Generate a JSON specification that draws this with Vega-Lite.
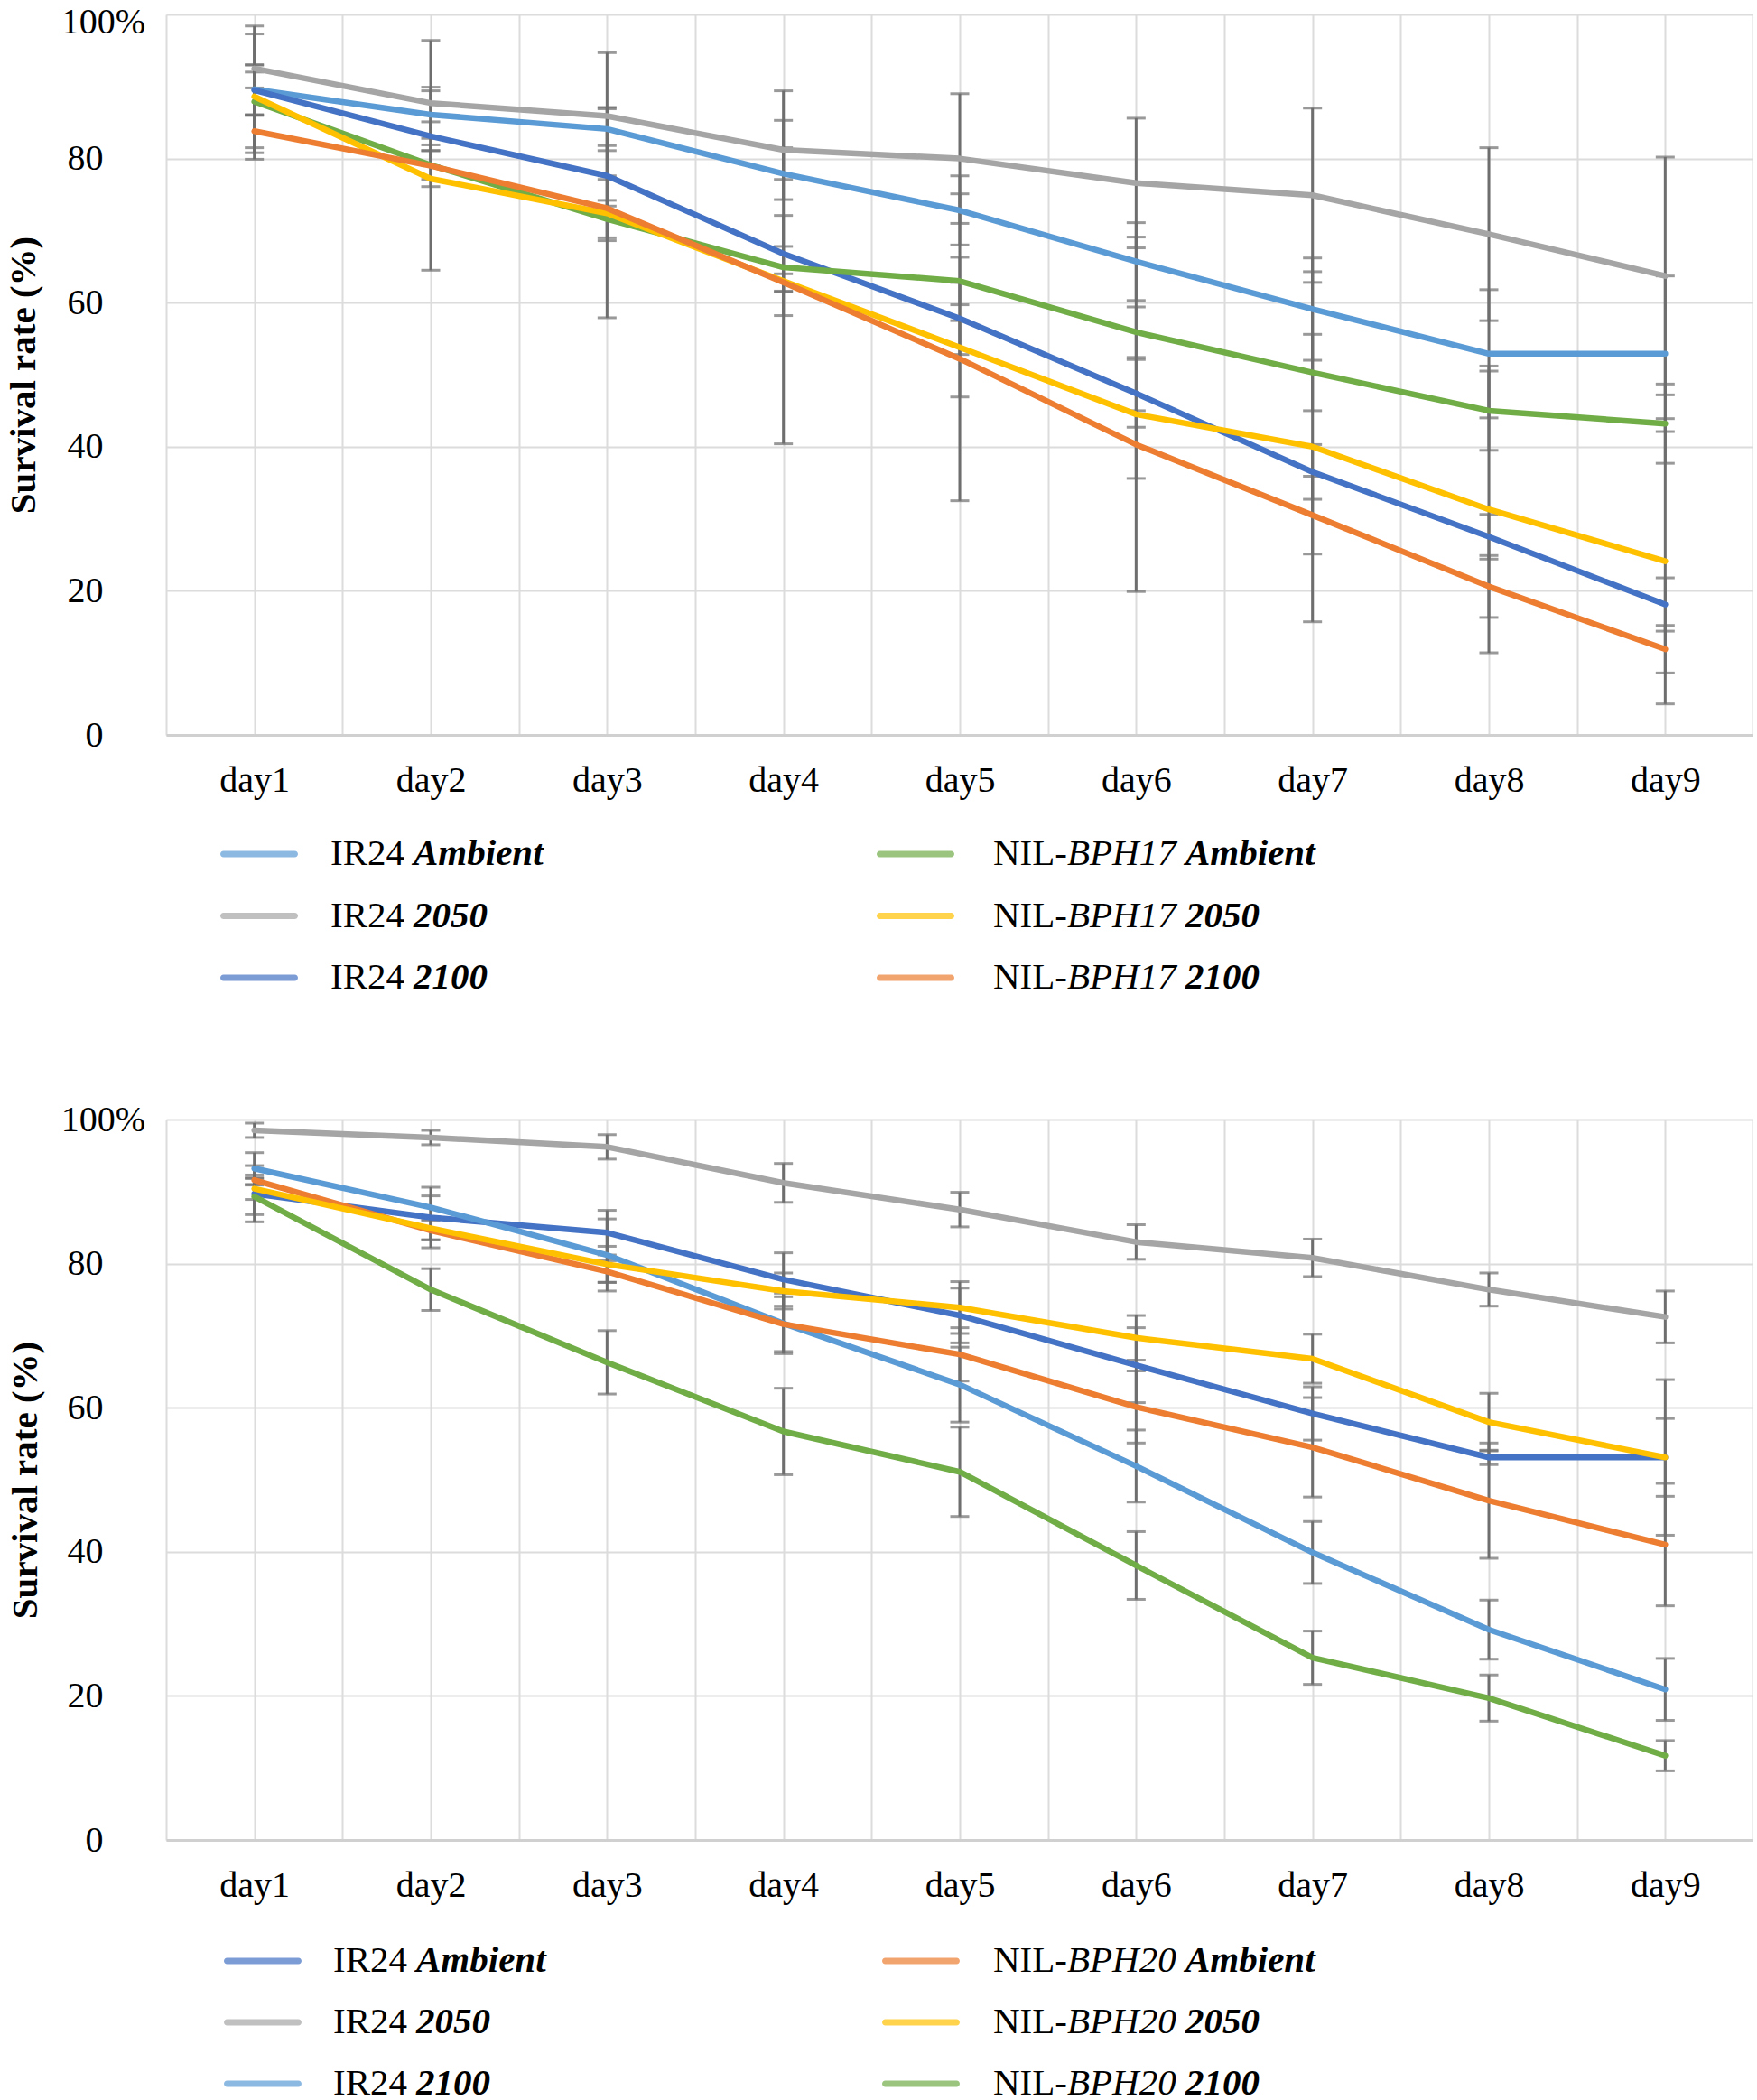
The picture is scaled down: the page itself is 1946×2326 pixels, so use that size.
{
  "$schema": "https://vega.github.io/schema/vega-lite/v6.json",
  "background": "white",
  "padding": {"left": 5, "top": 4, "right": 0, "bottom": 0},
  "bounds": "flush",
  "spacing": 0,
  "resolve": {"scale": {"color": "independent", "x": "independent", "y": "independent"}},
  "config": {
    "view": {"stroke": null},
    "font": "Liberation Serif",
    "axis": {"labelFont": "Liberation Serif", "titleFont": "Liberation Serif", "labelColor": "#000000", "titleColor": "#000000"},
    "text": {"font": "Liberation Serif"}
  },
  "datasets": {
    "bph17": [
      {"day": 1, "cultivar": "IR24", "gene": "", "scenario": "Ambient", "series": "IR24 Ambient", "rate": 89.6, "sd": 8.8},
      {"day": 2, "cultivar": "IR24", "gene": "", "scenario": "Ambient", "series": "IR24 Ambient", "rate": 86.1, "sd": 3.3},
      {"day": 3, "cultivar": "IR24", "gene": "", "scenario": "Ambient", "series": "IR24 Ambient", "rate": 84.1, "sd": 3.0},
      {"day": 4, "cultivar": "IR24", "gene": "", "scenario": "Ambient", "series": "IR24 Ambient", "rate": 77.9, "sd": 3.6},
      {"day": 5, "cultivar": "IR24", "gene": "", "scenario": "Ambient", "series": "IR24 Ambient", "rate": 72.8, "sd": 4.8},
      {"day": 6, "cultivar": "IR24", "gene": "", "scenario": "Ambient", "series": "IR24 Ambient", "rate": 65.7, "sd": 5.4},
      {"day": 7, "cultivar": "IR24", "gene": "", "scenario": "Ambient", "series": "IR24 Ambient", "rate": 59.1, "sd": 7.1},
      {"day": 8, "cultivar": "IR24", "gene": "", "scenario": "Ambient", "series": "IR24 Ambient", "rate": 52.9, "sd": 8.9},
      {"day": 9, "cultivar": "IR24", "gene": "", "scenario": "Ambient", "series": "IR24 Ambient", "rate": 52.9, "sd": 10.8},
      {"day": 1, "cultivar": "IR24", "gene": "", "scenario": "2050", "series": "IR24 2050", "rate": 92.5, "sd": 0.5},
      {"day": 2, "cultivar": "IR24", "gene": "", "scenario": "2050", "series": "IR24 2050", "rate": 87.7, "sd": 8.7},
      {"day": 3, "cultivar": "IR24", "gene": "", "scenario": "2050", "series": "IR24 2050", "rate": 85.9, "sd": 8.8},
      {"day": 4, "cultivar": "IR24", "gene": "", "scenario": "2050", "series": "IR24 2050", "rate": 81.2, "sd": 4.1},
      {"day": 5, "cultivar": "IR24", "gene": "", "scenario": "2050", "series": "IR24 2050", "rate": 80.0, "sd": 9.0},
      {"day": 6, "cultivar": "IR24", "gene": "", "scenario": "2050", "series": "IR24 2050", "rate": 76.6, "sd": 9.0},
      {"day": 7, "cultivar": "IR24", "gene": "", "scenario": "2050", "series": "IR24 2050", "rate": 74.9, "sd": 12.1},
      {"day": 8, "cultivar": "IR24", "gene": "", "scenario": "2050", "series": "IR24 2050", "rate": 69.5, "sd": 12.0},
      {"day": 9, "cultivar": "IR24", "gene": "", "scenario": "2050", "series": "IR24 2050", "rate": 63.7, "sd": 16.5},
      {"day": 1, "cultivar": "IR24", "gene": "", "scenario": "2100", "series": "IR24 2100", "rate": 89.5, "sd": 3.5},
      {"day": 2, "cultivar": "IR24", "gene": "", "scenario": "2100", "series": "IR24 2100", "rate": 83.1, "sd": 2.0},
      {"day": 3, "cultivar": "IR24", "gene": "", "scenario": "2100", "series": "IR24 2100", "rate": 77.6, "sd": 4.2},
      {"day": 4, "cultivar": "IR24", "gene": "", "scenario": "2100", "series": "IR24 2100", "rate": 66.8, "sd": 5.3},
      {"day": 5, "cultivar": "IR24", "gene": "", "scenario": "2100", "series": "IR24 2100", "rate": 57.8, "sd": 5.0},
      {"day": 6, "cultivar": "IR24", "gene": "", "scenario": "2100", "series": "IR24 2100", "rate": 47.4, "sd": 4.7},
      {"day": 7, "cultivar": "IR24", "gene": "", "scenario": "2100", "series": "IR24 2100", "rate": 36.5, "sd": 3.8},
      {"day": 8, "cultivar": "IR24", "gene": "", "scenario": "2100", "series": "IR24 2100", "rate": 27.5, "sd": 3.1},
      {"day": 9, "cultivar": "IR24", "gene": "", "scenario": "2100", "series": "IR24 2100", "rate": 18.1, "sd": 3.7},
      {"day": 1, "cultivar": "NIL-BPH17", "gene": "BPH17", "scenario": "Ambient", "series": "NIL-BPH17 Ambient", "rate": 87.9, "sd": 1.9},
      {"day": 2, "cultivar": "NIL-BPH17", "gene": "BPH17", "scenario": "Ambient", "series": "NIL-BPH17 Ambient", "rate": 79.1, "sd": 2.0},
      {"day": 3, "cultivar": "NIL-BPH17", "gene": "BPH17", "scenario": "Ambient", "series": "NIL-BPH17 Ambient", "rate": 71.6, "sd": 2.6},
      {"day": 4, "cultivar": "NIL-BPH17", "gene": "BPH17", "scenario": "Ambient", "series": "NIL-BPH17 Ambient", "rate": 64.9, "sd": 24.5},
      {"day": 5, "cultivar": "NIL-BPH17", "gene": "BPH17", "scenario": "Ambient", "series": "NIL-BPH17 Ambient", "rate": 63.0, "sd": 3.3},
      {"day": 6, "cultivar": "NIL-BPH17", "gene": "BPH17", "scenario": "Ambient", "series": "NIL-BPH17 Ambient", "rate": 55.9, "sd": 3.5},
      {"day": 7, "cultivar": "NIL-BPH17", "gene": "BPH17", "scenario": "Ambient", "series": "NIL-BPH17 Ambient", "rate": 50.3, "sd": 5.3},
      {"day": 8, "cultivar": "NIL-BPH17", "gene": "BPH17", "scenario": "Ambient", "series": "NIL-BPH17 Ambient", "rate": 45.0, "sd": 5.5},
      {"day": 9, "cultivar": "NIL-BPH17", "gene": "BPH17", "scenario": "Ambient", "series": "NIL-BPH17 Ambient", "rate": 43.2, "sd": 5.5},
      {"day": 1, "cultivar": "NIL-BPH17", "gene": "BPH17", "scenario": "2050", "series": "NIL-BPH17 2050", "rate": 88.6, "sd": 8.7},
      {"day": 2, "cultivar": "NIL-BPH17", "gene": "BPH17", "scenario": "2050", "series": "NIL-BPH17 2050", "rate": 77.2, "sd": 12.7},
      {"day": 3, "cultivar": "NIL-BPH17", "gene": "BPH17", "scenario": "2050", "series": "NIL-BPH17 2050", "rate": 72.4, "sd": 14.5},
      {"day": 4, "cultivar": "NIL-BPH17", "gene": "BPH17", "scenario": "2050", "series": "NIL-BPH17 2050", "rate": 63.0, "sd": 4.8},
      {"day": 5, "cultivar": "NIL-BPH17", "gene": "BPH17", "scenario": "2050", "series": "NIL-BPH17 2050", "rate": 53.8, "sd": 21.3},
      {"day": 6, "cultivar": "NIL-BPH17", "gene": "BPH17", "scenario": "2050", "series": "NIL-BPH17 2050", "rate": 44.5, "sd": 24.6},
      {"day": 7, "cultivar": "NIL-BPH17", "gene": "BPH17", "scenario": "2050", "series": "NIL-BPH17 2050", "rate": 40.0, "sd": 24.3},
      {"day": 8, "cultivar": "NIL-BPH17", "gene": "BPH17", "scenario": "2050", "series": "NIL-BPH17 2050", "rate": 31.3, "sd": 19.9},
      {"day": 9, "cultivar": "NIL-BPH17", "gene": "BPH17", "scenario": "2050", "series": "NIL-BPH17 2050", "rate": 24.1, "sd": 19.8},
      {"day": 1, "cultivar": "NIL-BPH17", "gene": "BPH17", "scenario": "2100", "series": "NIL-BPH17 2100", "rate": 83.8, "sd": 2.3},
      {"day": 2, "cultivar": "NIL-BPH17", "gene": "BPH17", "scenario": "2100", "series": "NIL-BPH17 2100", "rate": 79.0, "sd": 2.9},
      {"day": 3, "cultivar": "NIL-BPH17", "gene": "BPH17", "scenario": "2100", "series": "NIL-BPH17 2100", "rate": 73.1, "sd": 4.5},
      {"day": 4, "cultivar": "NIL-BPH17", "gene": "BPH17", "scenario": "2100", "series": "NIL-BPH17 2100", "rate": 62.8, "sd": 1.2},
      {"day": 5, "cultivar": "NIL-BPH17", "gene": "BPH17", "scenario": "2100", "series": "NIL-BPH17 2100", "rate": 52.2, "sd": 5.3},
      {"day": 6, "cultivar": "NIL-BPH17", "gene": "BPH17", "scenario": "2100", "series": "NIL-BPH17 2100", "rate": 40.3, "sd": 4.7},
      {"day": 7, "cultivar": "NIL-BPH17", "gene": "BPH17", "scenario": "2100", "series": "NIL-BPH17 2100", "rate": 30.5, "sd": 5.4},
      {"day": 8, "cultivar": "NIL-BPH17", "gene": "BPH17", "scenario": "2100", "series": "NIL-BPH17 2100", "rate": 20.6, "sd": 4.3},
      {"day": 9, "cultivar": "NIL-BPH17", "gene": "BPH17", "scenario": "2100", "series": "NIL-BPH17 2100", "rate": 11.9, "sd": 3.3}
    ],
    "bph20": [
      {"day": 1, "cultivar": "IR24", "gene": "", "scenario": "Ambient", "series": "IR24 Ambient", "rate": 89.7, "sd": 3.9},
      {"day": 2, "cultivar": "IR24", "gene": "", "scenario": "Ambient", "series": "IR24 Ambient", "rate": 86.4, "sd": 4.2},
      {"day": 3, "cultivar": "IR24", "gene": "", "scenario": "Ambient", "series": "IR24 Ambient", "rate": 84.3, "sd": 3.1},
      {"day": 4, "cultivar": "IR24", "gene": "", "scenario": "Ambient", "series": "IR24 Ambient", "rate": 77.8, "sd": 3.7},
      {"day": 5, "cultivar": "IR24", "gene": "", "scenario": "Ambient", "series": "IR24 Ambient", "rate": 72.8, "sd": 3.8},
      {"day": 6, "cultivar": "IR24", "gene": "", "scenario": "Ambient", "series": "IR24 Ambient", "rate": 65.9, "sd": 5.2},
      {"day": 7, "cultivar": "IR24", "gene": "", "scenario": "Ambient", "series": "IR24 Ambient", "rate": 59.2, "sd": 3.7},
      {"day": 8, "cultivar": "IR24", "gene": "", "scenario": "Ambient", "series": "IR24 Ambient", "rate": 53.1, "sd": 1.0},
      {"day": 9, "cultivar": "IR24", "gene": "", "scenario": "Ambient", "series": "IR24 Ambient", "rate": 53.1, "sd": 5.4},
      {"day": 1, "cultivar": "IR24", "gene": "", "scenario": "2050", "series": "IR24 2050", "rate": 98.5, "sd": 1.0},
      {"day": 2, "cultivar": "IR24", "gene": "", "scenario": "2050", "series": "IR24 2050", "rate": 97.5, "sd": 1.0},
      {"day": 3, "cultivar": "IR24", "gene": "", "scenario": "2050", "series": "IR24 2050", "rate": 96.2, "sd": 1.7},
      {"day": 4, "cultivar": "IR24", "gene": "", "scenario": "2050", "series": "IR24 2050", "rate": 91.2, "sd": 2.7},
      {"day": 5, "cultivar": "IR24", "gene": "", "scenario": "2050", "series": "IR24 2050", "rate": 87.5, "sd": 2.4},
      {"day": 6, "cultivar": "IR24", "gene": "", "scenario": "2050", "series": "IR24 2050", "rate": 83.0, "sd": 2.4},
      {"day": 7, "cultivar": "IR24", "gene": "", "scenario": "2050", "series": "IR24 2050", "rate": 80.8, "sd": 2.6},
      {"day": 8, "cultivar": "IR24", "gene": "", "scenario": "2050", "series": "IR24 2050", "rate": 76.4, "sd": 2.3},
      {"day": 9, "cultivar": "IR24", "gene": "", "scenario": "2050", "series": "IR24 2050", "rate": 72.6, "sd": 3.6},
      {"day": 1, "cultivar": "IR24", "gene": "", "scenario": "2100", "series": "IR24 2100", "rate": 93.2, "sd": 2.2},
      {"day": 2, "cultivar": "IR24", "gene": "", "scenario": "2100", "series": "IR24 2100", "rate": 87.8, "sd": 1.6},
      {"day": 3, "cultivar": "IR24", "gene": "", "scenario": "2100", "series": "IR24 2100", "rate": 81.2, "sd": 5.0},
      {"day": 4, "cultivar": "IR24", "gene": "", "scenario": "2100", "series": "IR24 2100", "rate": 71.7, "sd": 4.2},
      {"day": 5, "cultivar": "IR24", "gene": "", "scenario": "2100", "series": "IR24 2100", "rate": 63.2, "sd": 5.2},
      {"day": 6, "cultivar": "IR24", "gene": "", "scenario": "2100", "series": "IR24 2100", "rate": 51.9, "sd": 5.0},
      {"day": 7, "cultivar": "IR24", "gene": "", "scenario": "2100", "series": "IR24 2100", "rate": 39.9, "sd": 4.3},
      {"day": 8, "cultivar": "IR24", "gene": "", "scenario": "2100", "series": "IR24 2100", "rate": 29.2, "sd": 4.1},
      {"day": 9, "cultivar": "IR24", "gene": "", "scenario": "2100", "series": "IR24 2100", "rate": 20.9, "sd": 4.3},
      {"day": 1, "cultivar": "NIL-BPH20", "gene": "BPH20", "scenario": "Ambient", "series": "NIL-BPH20 Ambient", "rate": 91.6, "sd": 0.7},
      {"day": 2, "cultivar": "NIL-BPH20", "gene": "BPH20", "scenario": "Ambient", "series": "NIL-BPH20 Ambient", "rate": 84.6, "sd": 1.3},
      {"day": 3, "cultivar": "NIL-BPH20", "gene": "BPH20", "scenario": "Ambient", "series": "NIL-BPH20 Ambient", "rate": 78.9, "sd": 1.5},
      {"day": 4, "cultivar": "NIL-BPH20", "gene": "BPH20", "scenario": "Ambient", "series": "NIL-BPH20 Ambient", "rate": 71.6, "sd": 3.8},
      {"day": 5, "cultivar": "NIL-BPH20", "gene": "BPH20", "scenario": "Ambient", "series": "NIL-BPH20 Ambient", "rate": 67.4, "sd": 3.7},
      {"day": 6, "cultivar": "NIL-BPH20", "gene": "BPH20", "scenario": "Ambient", "series": "NIL-BPH20 Ambient", "rate": 60.1, "sd": 5.0},
      {"day": 7, "cultivar": "NIL-BPH20", "gene": "BPH20", "scenario": "Ambient", "series": "NIL-BPH20 Ambient", "rate": 54.5, "sd": 6.9},
      {"day": 8, "cultivar": "NIL-BPH20", "gene": "BPH20", "scenario": "Ambient", "series": "NIL-BPH20 Ambient", "rate": 47.1, "sd": 8.0},
      {"day": 9, "cultivar": "NIL-BPH20", "gene": "BPH20", "scenario": "Ambient", "series": "NIL-BPH20 Ambient", "rate": 41.0, "sd": 8.5},
      {"day": 1, "cultivar": "NIL-BPH20", "gene": "BPH20", "scenario": "2050", "series": "NIL-BPH20 2050", "rate": 90.4, "sd": 1.5},
      {"day": 2, "cultivar": "NIL-BPH20", "gene": "BPH20", "scenario": "2050", "series": "NIL-BPH20 2050", "rate": 84.9, "sd": 1.6},
      {"day": 3, "cultivar": "NIL-BPH20", "gene": "BPH20", "scenario": "2050", "series": "NIL-BPH20 2050", "rate": 79.9, "sd": 2.5},
      {"day": 4, "cultivar": "NIL-BPH20", "gene": "BPH20", "scenario": "2050", "series": "NIL-BPH20 2050", "rate": 76.2, "sd": 2.5},
      {"day": 5, "cultivar": "NIL-BPH20", "gene": "BPH20", "scenario": "2050", "series": "NIL-BPH20 2050", "rate": 73.9, "sd": 3.6},
      {"day": 6, "cultivar": "NIL-BPH20", "gene": "BPH20", "scenario": "2050", "series": "NIL-BPH20 2050", "rate": 69.7, "sd": 3.1},
      {"day": 7, "cultivar": "NIL-BPH20", "gene": "BPH20", "scenario": "2050", "series": "NIL-BPH20 2050", "rate": 66.8, "sd": 3.4},
      {"day": 8, "cultivar": "NIL-BPH20", "gene": "BPH20", "scenario": "2050", "series": "NIL-BPH20 2050", "rate": 58.0, "sd": 4.0},
      {"day": 9, "cultivar": "NIL-BPH20", "gene": "BPH20", "scenario": "2050", "series": "NIL-BPH20 2050", "rate": 53.1, "sd": 10.8},
      {"day": 1, "cultivar": "NIL-BPH20", "gene": "BPH20", "scenario": "2100", "series": "NIL-BPH20 2100", "rate": 89.3, "sd": 2.5},
      {"day": 2, "cultivar": "NIL-BPH20", "gene": "BPH20", "scenario": "2100", "series": "NIL-BPH20 2100", "rate": 76.4, "sd": 2.9},
      {"day": 3, "cultivar": "NIL-BPH20", "gene": "BPH20", "scenario": "2100", "series": "NIL-BPH20 2100", "rate": 66.3, "sd": 4.4},
      {"day": 4, "cultivar": "NIL-BPH20", "gene": "BPH20", "scenario": "2100", "series": "NIL-BPH20 2100", "rate": 56.7, "sd": 6.0},
      {"day": 5, "cultivar": "NIL-BPH20", "gene": "BPH20", "scenario": "2100", "series": "NIL-BPH20 2100", "rate": 51.1, "sd": 6.2},
      {"day": 6, "cultivar": "NIL-BPH20", "gene": "BPH20", "scenario": "2100", "series": "NIL-BPH20 2100", "rate": 38.1, "sd": 4.7},
      {"day": 7, "cultivar": "NIL-BPH20", "gene": "BPH20", "scenario": "2100", "series": "NIL-BPH20 2100", "rate": 25.3, "sd": 3.7},
      {"day": 8, "cultivar": "NIL-BPH20", "gene": "BPH20", "scenario": "2100", "series": "NIL-BPH20 2100", "rate": 19.7, "sd": 3.2},
      {"day": 9, "cultivar": "NIL-BPH20", "gene": "BPH20", "scenario": "2100", "series": "NIL-BPH20 2100", "rate": 11.7, "sd": 2.1}
    ]
  },
  "vconcat": [
    {
      "width": 1758,
      "height": 798,
      "data": {"name": "bph17"},
      "encoding": {
        "x": {"field": "day", "type": "quantitative", "title": null,
          "scale": {"domain": [0.5, 9.5], "nice": false, "zero": false},
          "axis": {"values": [0.5, 1, 1.5, 2, 2.5, 3, 3.5, 4, 4.5, 5, 5.5, 6, 6.5, 7, 7.5, 8, 8.5, 9, 9.5],
            "labelExpr": "datum.value % 1 === 0 ? 'day' + datum.value : ''",
            "grid": true, "gridColor": "#dcdcdc", "gridWidth": 2, "ticks": false,
            "domain": true, "domainColor": "#d0d0d0", "domainWidth": 3,
            "labelFontSize": 40, "labelPadding": 30, "labelFlush": false, "labelOverlap": false, "labelBound": false}},
        "y": {"field": "rate", "type": "quantitative", "title": "Survival rate (%)",
          "scale": {"domain": [0, 100], "nice": false},
          "axis": {"values": [0, 20, 40, 60, 80, 100],
            "labelExpr": "datum.value === 100 ? '100%\u00a0\u00a0\u00a0' : datum.label",
            "labelAlign": {"condition": {"test": "datum.value === 100", "value": "center"}, "value": "right"},
            "labelOffset": {"condition": {"test": "datum.value === 100", "value": 8}, "value": 0},
            "grid": true, "gridColor": "#dcdcdc", "gridWidth": 2, "ticks": false, "domain": false,
            "labelFontSize": 40, "labelPadding": 70, "labelOverlap": false,
            "titleFontSize": 41, "titleFontWeight": "bold", "titleX": -158, "titleBaseline": "middle"}}
      },
      "layer": [
        {"mark": {"type": "errorbar", "ticks": true, "size": 21, "thickness": 3, "color": "#6e6e6e"},
         "encoding": {"yError": {"field": "sd"}}},
        {"mark": {"type": "line", "strokeWidth": 6.5, "interpolate": "linear", "strokeCap": "round", "strokeJoin": "round"},
         "encoding": {"color": {"field": "series", "type": "nominal", "legend": null,
           "scale": {"domain": ["IR24 Ambient", "IR24 2050", "IR24 2100", "NIL-BPH17 Ambient", "NIL-BPH17 2050", "NIL-BPH17 2100"],
                     "range": ["#5B9BD5", "#A5A5A5", "#4472C4", "#70AD47", "#FFC000", "#ED7D31"]}}}}
      ]
    },
    {
      "width": 1758,
      "height": 425.5,
      "data": {"name": "bph17"},
      "transform": [{"filter": "datum.day === 1"}],
      "encoding": {
        "x": {"field": "cultivar", "type": "nominal", "axis": null,
          "scale": {"type": "point", "domain": ["IR24", "NIL-BPH17"], "range": [103, 830], "padding": 0}},
        "y": {"field": "scenario", "type": "nominal", "axis": null,
          "scale": {"type": "point", "domain": ["Ambient", "2050", "2100"], "range": [132, 269], "padding": 0}}
      },
      "layer": [
        {"mark": {"type": "tick", "orient": "horizontal", "size": 86, "thickness": 7, "cornerRadius": 3.5},
         "encoding": {"color": {"field": "series", "type": "nominal", "legend": null,
           "scale": {"domain": ["IR24 Ambient", "IR24 2050", "IR24 2100", "NIL-BPH17 Ambient", "NIL-BPH17 2050", "NIL-BPH17 2100"],
                     "range": ["#5B9BD5", "#A5A5A5", "#4472C4", "#70AD47", "#FFC000", "#ED7D31"]}}}},
        {"transform": [{"filter": "datum.cultivar === 'IR24'"}],
         "mark": {"type": "text", "align": "left", "baseline": "middle", "dx": 79, "fontSize": 41, "color": "#000000"},
         "encoding": {"text": {"field": "cultivar"}}},
        {"transform": [{"filter": "datum.cultivar === 'IR24'"}],
         "mark": {"type": "text", "align": "left", "baseline": "middle", "dx": 171, "fontSize": 41, "fontStyle": "italic", "fontWeight": "bold", "color": "#000000"},
         "encoding": {"text": {"field": "scenario"}}},
        {"transform": [{"filter": "datum.cultivar !== 'IR24'"}],
         "mark": {"type": "text", "align": "left", "baseline": "middle", "dx": 86, "fontSize": 41, "color": "#000000"},
         "encoding": {"text": {"value": "NIL-"}}},
        {"transform": [{"filter": "datum.cultivar !== 'IR24'"}],
         "mark": {"type": "text", "align": "left", "baseline": "middle", "dx": 168, "fontSize": 41, "fontStyle": "italic", "color": "#000000"},
         "encoding": {"text": {"field": "gene"}}},
        {"transform": [{"filter": "datum.cultivar !== 'IR24'"}],
         "mark": {"type": "text", "align": "left", "baseline": "middle", "dx": 299, "fontSize": 41, "fontStyle": "italic", "fontWeight": "bold", "color": "#000000"},
         "encoding": {"text": {"field": "scenario"}}}
      ]
    },
    {
      "width": 1758,
      "height": 798,
      "data": {"name": "bph20"},
      "encoding": {
        "x": {"field": "day", "type": "quantitative", "title": null,
          "scale": {"domain": [0.5, 9.5], "nice": false, "zero": false},
          "axis": {"values": [0.5, 1, 1.5, 2, 2.5, 3, 3.5, 4, 4.5, 5, 5.5, 6, 6.5, 7, 7.5, 8, 8.5, 9, 9.5],
            "labelExpr": "datum.value % 1 === 0 ? 'day' + datum.value : ''",
            "grid": true, "gridColor": "#dcdcdc", "gridWidth": 2, "ticks": false,
            "domain": true, "domainColor": "#d0d0d0", "domainWidth": 3,
            "labelFontSize": 40, "labelPadding": 30, "labelFlush": false, "labelOverlap": false, "labelBound": false}},
        "y": {"field": "rate", "type": "quantitative", "title": "Survival rate (%)",
          "scale": {"domain": [0, 100], "nice": false},
          "axis": {"values": [0, 20, 40, 60, 80, 100],
            "labelExpr": "datum.value === 100 ? '100%\u00a0\u00a0\u00a0' : datum.label",
            "labelAlign": {"condition": {"test": "datum.value === 100", "value": "center"}, "value": "right"},
            "grid": true, "gridColor": "#dcdcdc", "gridWidth": 2, "ticks": false, "domain": false,
            "labelFontSize": 40, "labelPadding": 70, "labelOverlap": false,
            "titleFontSize": 41, "titleFontWeight": "bold", "titleX": -156, "titleBaseline": "middle"}}
      },
      "layer": [
        {"mark": {"type": "errorbar", "ticks": true, "size": 21, "thickness": 3, "color": "#6e6e6e"},
         "encoding": {"yError": {"field": "sd"}}},
        {"mark": {"type": "line", "strokeWidth": 6.5, "interpolate": "linear", "strokeCap": "round", "strokeJoin": "round"},
         "encoding": {"color": {"field": "series", "type": "nominal", "legend": null,
           "scale": {"domain": ["IR24 Ambient", "IR24 2050", "IR24 2100", "NIL-BPH20 Ambient", "NIL-BPH20 2050", "NIL-BPH20 2100"],
                     "range": ["#4472C4", "#A5A5A5", "#5B9BD5", "#ED7D31", "#FFC000", "#70AD47"]}}}}
      ]
    },
    {
      "width": 1758,
      "height": 300,
      "data": {"name": "bph20"},
      "transform": [{"filter": "datum.day === 1"}],
      "encoding": {
        "x": {"field": "cultivar", "type": "nominal", "axis": null,
          "scale": {"type": "point", "domain": ["IR24", "NIL-BPH20"], "range": [107, 836], "padding": 0}},
        "y": {"field": "scenario", "type": "nominal", "axis": null,
          "scale": {"type": "point", "domain": ["Ambient", "2050", "2100"], "range": [134, 270], "padding": 0}}
      },
      "layer": [
        {"mark": {"type": "tick", "orient": "horizontal", "size": 86, "thickness": 7, "cornerRadius": 3.5},
         "encoding": {"color": {"field": "series", "type": "nominal", "legend": null,
           "scale": {"domain": ["IR24 Ambient", "IR24 2050", "IR24 2100", "NIL-BPH20 Ambient", "NIL-BPH20 2050", "NIL-BPH20 2100"],
                     "range": ["#4472C4", "#A5A5A5", "#5B9BD5", "#ED7D31", "#FFC000", "#70AD47"]}}}},
        {"transform": [{"filter": "datum.cultivar === 'IR24'"}],
         "mark": {"type": "text", "align": "left", "baseline": "middle", "dx": 78, "fontSize": 41, "color": "#000000"},
         "encoding": {"text": {"field": "cultivar"}}},
        {"transform": [{"filter": "datum.cultivar === 'IR24'"}],
         "mark": {"type": "text", "align": "left", "baseline": "middle", "dx": 170, "fontSize": 41, "fontStyle": "italic", "fontWeight": "bold", "color": "#000000"},
         "encoding": {"text": {"field": "scenario"}}},
        {"transform": [{"filter": "datum.cultivar !== 'IR24'"}],
         "mark": {"type": "text", "align": "left", "baseline": "middle", "dx": 80, "fontSize": 41, "color": "#000000"},
         "encoding": {"text": {"value": "NIL-"}}},
        {"transform": [{"filter": "datum.cultivar !== 'IR24'"}],
         "mark": {"type": "text", "align": "left", "baseline": "middle", "dx": 162, "fontSize": 41, "fontStyle": "italic", "color": "#000000"},
         "encoding": {"text": {"field": "gene"}}},
        {"transform": [{"filter": "datum.cultivar !== 'IR24'"}],
         "mark": {"type": "text", "align": "left", "baseline": "middle", "dx": 293, "fontSize": 41, "fontStyle": "italic", "fontWeight": "bold", "color": "#000000"},
         "encoding": {"text": {"field": "scenario"}}}
      ]
    }
  ]
}
